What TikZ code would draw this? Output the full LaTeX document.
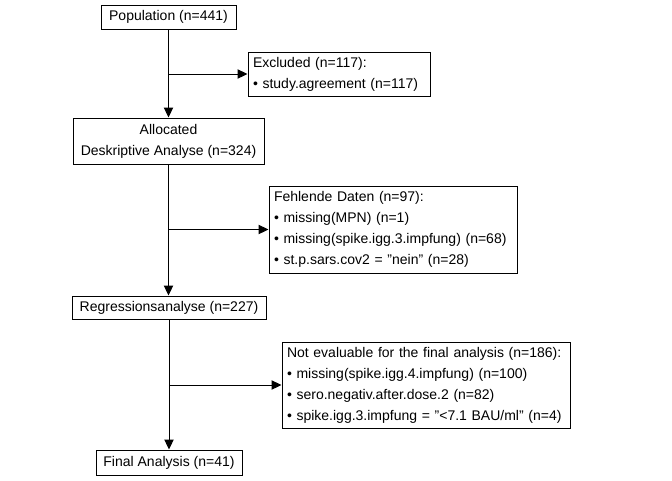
\documentclass[tikz,border=0pt]{standalone}
\usepackage{fontspec}
\setmainfont{Liberation Sans}
\usetikzlibrary{arrows.meta}
\begin{document}
\begin{tikzpicture}[x=0.75pt,y=-0.75pt,
  every node/.style={font=\fontsize{10.5pt}{15.75pt}\selectfont},
  mainbox/.style={draw,line width=0.75pt,align=center,inner xsep=3.75pt,inner ysep=0pt},
  sidebox/.style={draw,line width=0.75pt,align=left,inner xsep=3.75pt,inner ysep=0pt},
  arr/.style={line width=0.75pt,-{Triangle[length=7.5pt,width=7pt]}},
  ln/.style={line width=0.75pt}]
\useasboundingbox (0,0) rectangle (672,480);
\node[mainbox,minimum width=101.25pt,minimum height=18pt] (pop) at (168.5,17) {Population (n=441)};
\node[sidebox,text width=129pt,minimum height=33pt] (excl) at (339,74) {Excluded (n=117):\\\textbullet\ study.agreement (n=117)};
\node[mainbox,minimum width=143.25pt,minimum height=34.5pt] (alloc) at (168.5,141) {Allocated\\Deskriptive Analyse (n=324)};
\node[sidebox,text width=178.5pt,minimum height=65.25pt] (fehl) at (393,229.5) {Fehlende Daten (n=97):\\\textbullet\ missing(MPN) (n=1)\\\textbullet\ missing(spike.igg.3.impfung) (n=68)\\\textbullet\ st.p.sars.cov2 = "nein" (n=28)};
\node[mainbox,minimum width=145.5pt,minimum height=17.25pt] (reg) at (169,307.5) {Regressionsanalyse (n=227)};
\node[sidebox,text width=208.5pt,minimum height=64.5pt] (noteval) at (426,385) {Not evaluable for the final analysis (n=186):\\\textbullet\ missing(spike.igg.4.impfung) (n=100)\\\textbullet\ sero.negativ.after.dose.2 (n=82)\\\textbullet\ spike.igg.3.impfung = "<7.1 BAU/ml" (n=4)};
\node[mainbox,minimum width=109.5pt,minimum height=18.75pt] (final) at (169,462.5) {Final Analysis (n=41)};
\coordinate (b1) at (pop.south |- excl.west);
\coordinate (b2) at (alloc.south |- fehl.west);
\coordinate (b3) at (reg.south |- noteval.west);
\draw[arr] (pop.south) -- (pop.south |- alloc.north);
\draw[arr] (b1) -- (excl.west);
\draw[arr] (alloc.south) -- (alloc.south |- reg.north);
\draw[arr] (b2) -- (fehl.west);
\draw[arr] (reg.south) -- (reg.south |- final.north);
\draw[arr] (b3) -- (noteval.west);
\end{tikzpicture}
\end{document}
